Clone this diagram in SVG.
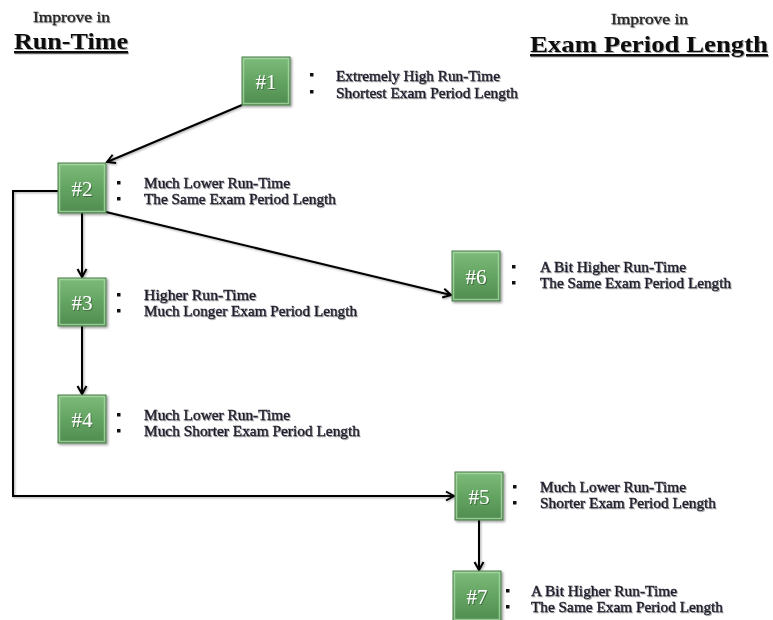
<svg xmlns="http://www.w3.org/2000/svg" width="773" height="620" viewBox="0 0 773 620">
<defs>
<linearGradient id="g" x1="0" y1="0" x2="0" y2="1">
<stop offset="0" stop-color="#7dbb7a"/>
<stop offset="0.5" stop-color="#64a462"/>
<stop offset="1" stop-color="#4f8c4f"/>
</linearGradient>
<filter id="sh" x="-20%" y="-20%" width="150%" height="150%">
<feDropShadow dx="1.5" dy="1.5" stdDeviation="1.2" flood-color="#000" flood-opacity="0.4"/>
</filter>
<filter id="tsh" x="-10%" y="-10%" width="130%" height="140%">
<feDropShadow dx="1" dy="1" stdDeviation="0.6" flood-color="#000" flood-opacity="0.35"/>
</filter>
<filter id="lsh" filterUnits="userSpaceOnUse" x="0" y="0" width="773" height="620">
<feDropShadow dx="1" dy="1" stdDeviation="0.8" flood-color="#000" flood-opacity="0.35"/>
</filter>
<marker id="arr" markerWidth="12" markerHeight="12" refX="10" refY="6" orient="auto" markerUnits="userSpaceOnUse">
<path d="M2,1.5 L10,6 L2,10.5" fill="none" stroke="#000" stroke-width="2"/>
</marker>
</defs>
<style>
.box{fill:url(#g);stroke:#4a7f4a;stroke-width:1;filter:url(#sh)}
.bev{fill:none;stroke:#a9d8a6;stroke-width:1.5;opacity:0.8}
.lbl{font-family:"Liberation Serif","DejaVu Serif",serif;font-size:21px;fill:#fff;text-anchor:middle;filter:url(#tsh)}
.txt{font-family:"Liberation Serif","DejaVu Serif",serif;font-size:14.5px;fill:#1c1c2a;stroke:#1c1c2a;stroke-width:0.35;filter:url(#tsh)}
.bul{fill:#111}
.conn{fill:none;stroke:#000;stroke-width:2}
.hs{font-family:"Liberation Serif","DejaVu Serif",serif;font-size:14px;fill:#222;stroke:#222;stroke-width:0.3;filter:url(#tsh)}
.hb{font-family:"Liberation Serif","DejaVu Serif",serif;font-size:24px;font-weight:bold;fill:#111;text-decoration:underline;filter:url(#tsh)}
</style>
<g id="headers">
<text class="hs" x="33" y="22" textLength="77" lengthAdjust="spacingAndGlyphs">Improve in</text>
<text class="hb" x="14" y="49" textLength="114" lengthAdjust="spacingAndGlyphs">Run-Time</text>
<text class="hs" x="611" y="24" textLength="77" lengthAdjust="spacingAndGlyphs">Improve in</text>
<text class="hb" x="530" y="52" textLength="238" lengthAdjust="spacingAndGlyphs">Exam Period Length</text>
</g>
<g id="connectors" filter="url(#lsh)">
<line class="conn" x1="242" y1="105" x2="107" y2="162" marker-end="url(#arr)"/>
<line class="conn" x1="82" y1="213" x2="82" y2="277" marker-end="url(#arr)"/>
<line class="conn" x1="82" y1="326" x2="82" y2="394" marker-end="url(#arr)"/>
<line class="conn" x1="106" y1="212" x2="451" y2="295" marker-end="url(#arr)"/>
<polyline class="conn" points="58,191 13,191 13,496 454,496" marker-end="url(#arr)"/>
<line class="conn" x1="479" y1="520" x2="479" y2="570" marker-end="url(#arr)"/>
</g>
<g id="n1">
<rect class="box" x="242" y="57" width="48" height="48"/>
<rect class="bev" x="243.5" y="58.5" width="45" height="45"/>
<text class="lbl" x="266" y="89">#1</text>
<rect class="bul" x="310" y="73" width="3.5" height="3.5"/>
<rect class="bul" x="310" y="90" width="3.5" height="3.5"/>
<text class="txt" x="336" y="81" textLength="164" lengthAdjust="spacingAndGlyphs">Extremely High Run-Time</text>
<text class="txt" x="336" y="98" textLength="182" lengthAdjust="spacingAndGlyphs">Shortest Exam Period Length</text>
</g>
<g id="n2">
<rect class="box" x="58" y="163" width="48" height="50"/>
<rect class="bev" x="59.5" y="164.5" width="45" height="47"/>
<text class="lbl" x="82" y="196">#2</text>
<rect class="bul" x="117" y="181" width="3.5" height="3.5"/>
<rect class="bul" x="117" y="197" width="3.5" height="3.5"/>
<text class="txt" x="144" y="188" textLength="146" lengthAdjust="spacingAndGlyphs">Much Lower Run-Time</text>
<text class="txt" x="144" y="204" textLength="192" lengthAdjust="spacingAndGlyphs">The Same Exam Period Length</text>
</g>
<g id="n3">
<rect class="box" x="58" y="278" width="48" height="48"/>
<rect class="bev" x="59.5" y="279.5" width="45" height="45"/>
<text class="lbl" x="82" y="310">#3</text>
<rect class="bul" x="117" y="293" width="3.5" height="3.5"/>
<rect class="bul" x="117" y="309" width="3.5" height="3.5"/>
<text class="txt" x="144" y="300" textLength="112" lengthAdjust="spacingAndGlyphs">Higher Run-Time</text>
<text class="txt" x="144" y="316" textLength="213" lengthAdjust="spacingAndGlyphs">Much Longer Exam Period Length</text>
</g>
<g id="n4">
<rect class="box" x="58" y="395" width="48" height="48"/>
<rect class="bev" x="59.5" y="396.5" width="45" height="45"/>
<text class="lbl" x="82" y="427">#4</text>
<rect class="bul" x="117" y="413" width="3.5" height="3.5"/>
<rect class="bul" x="117" y="429" width="3.5" height="3.5"/>
<text class="txt" x="144" y="420" textLength="146" lengthAdjust="spacingAndGlyphs">Much Lower Run-Time</text>
<text class="txt" x="144" y="436" textLength="216" lengthAdjust="spacingAndGlyphs">Much Shorter Exam Period Length</text>
</g>
<g id="n6">
<rect class="box" x="452" y="251" width="48" height="50"/>
<rect class="bev" x="453.5" y="252.5" width="45" height="47"/>
<text class="lbl" x="476" y="284">#6</text>
<rect class="bul" x="512" y="265" width="3.5" height="3.5"/>
<rect class="bul" x="512" y="281" width="3.5" height="3.5"/>
<text class="txt" x="540" y="272" textLength="146" lengthAdjust="spacingAndGlyphs">A Bit Higher Run-Time</text>
<text class="txt" x="540" y="288" textLength="191" lengthAdjust="spacingAndGlyphs">The Same Exam Period Length</text>
</g>
<g id="n5">
<rect class="box" x="455" y="472" width="48" height="48"/>
<rect class="bev" x="456.5" y="473.5" width="45" height="45"/>
<text class="lbl" x="479" y="504">#5</text>
<rect class="bul" x="513" y="485" width="3.5" height="3.5"/>
<rect class="bul" x="513" y="501" width="3.5" height="3.5"/>
<text class="txt" x="540" y="492" textLength="146" lengthAdjust="spacingAndGlyphs">Much Lower Run-Time</text>
<text class="txt" x="540" y="508" textLength="176" lengthAdjust="spacingAndGlyphs">Shorter Exam Period Length</text>
</g>
<g id="n7">
<rect class="box" x="453" y="571" width="48" height="50"/>
<rect class="bev" x="454.5" y="572.5" width="45" height="47"/>
<text class="lbl" x="477" y="604">#7</text>
<rect class="bul" x="506" y="589" width="3.5" height="3.5"/>
<rect class="bul" x="506" y="605" width="3.5" height="3.5"/>
<text class="txt" x="531" y="596" textLength="146" lengthAdjust="spacingAndGlyphs">A Bit Higher Run-Time</text>
<text class="txt" x="531" y="612" textLength="192" lengthAdjust="spacingAndGlyphs">The Same Exam Period Length</text>
</g>
</svg>
